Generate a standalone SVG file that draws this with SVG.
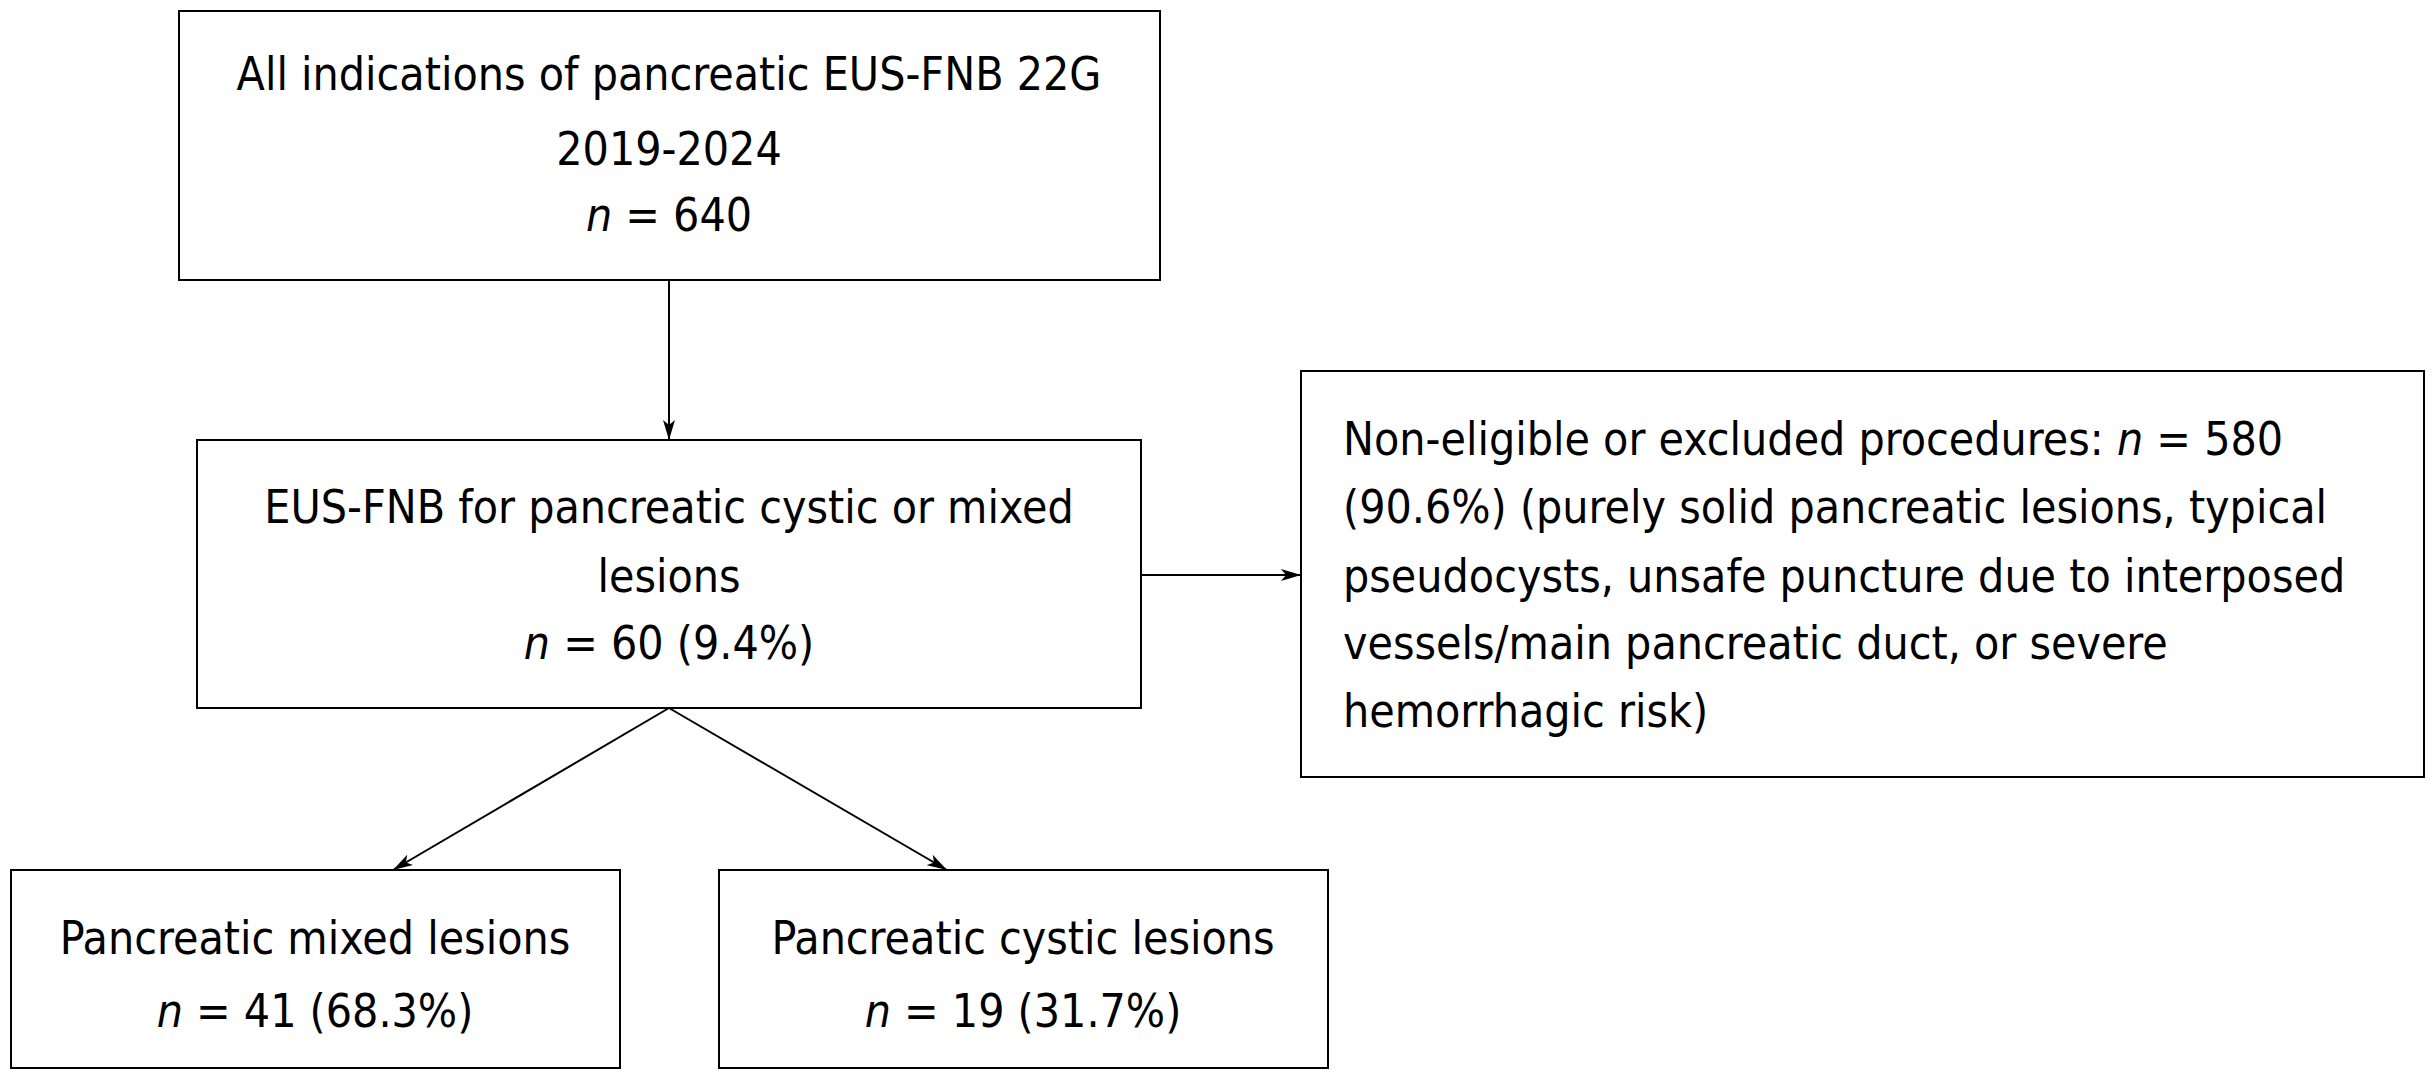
<svg xmlns="http://www.w3.org/2000/svg" width="2435" height="1081" viewBox="0 0 2435 1081">
<defs>
<style>
rect{fill:#fff;stroke:#000;stroke-width:2}
text{font-family:"DejaVu Sans Condensed","DejaVu Sans",sans-serif;font-size:46px;fill:#000}
.c{text-anchor:middle}
.l{stroke:#000;stroke-width:2;fill:none}
</style>
<marker id="a" viewBox="0 0 20 12" refX="20" refY="6" markerWidth="20" markerHeight="12" markerUnits="userSpaceOnUse" orient="auto"><path d="M0,0 L20,6 L0,12 L5,6 Z" fill="#000"/></marker>
</defs>
<rect width="2435" height="1081" style="stroke:none"/>
<g id="n1"><rect x="179" y="11" width="981" height="269"/>
<text class="c" x="669" y="90">All indications of pancreatic EUS-FNB 22G</text>
<text class="c" x="669" y="165">2019-2024</text>
<text class="c" x="669" y="231"><tspan font-style="italic">n</tspan> = 640</text></g>
<g id="n2"><rect x="197" y="440" width="944" height="268"/>
<text class="c" x="669" y="523">EUS-FNB for pancreatic cystic or mixed</text>
<text class="c" x="669" y="592">lesions</text>
<text class="c" x="669" y="659"><tspan font-style="italic">n</tspan> = 60 (9.4%)</text></g>
<g id="n3"><rect x="1301" y="371" width="1123" height="406"/>
<text x="1343" y="455">Non-eligible or excluded procedures: <tspan font-style="italic">n</tspan> = 580</text>
<text x="1343" y="523">(90.6%) (purely solid pancreatic lesions, typical</text>
<text x="1343" y="592">pseudocysts, unsafe puncture due to interposed</text>
<text x="1343" y="659">vessels/main pancreatic duct, or severe</text>
<text x="1343" y="727">hemorrhagic risk)</text></g>
<g id="n4"><rect x="11" y="870" width="609" height="198"/>
<text class="c" x="315" y="954">Pancreatic mixed lesions</text>
<text class="c" x="315" y="1027"><tspan font-style="italic">n</tspan> = 41 (68.3%)</text></g>
<g id="n5"><rect x="719" y="870" width="609" height="198"/>
<text class="c" x="1023" y="954">Pancreatic cystic lesions</text>
<text class="c" x="1023" y="1027"><tspan font-style="italic">n</tspan> = 19 (31.7%)</text></g>
<g id="connectors">
<path class="l" d="M669,280 V440" marker-end="url(#a)"/>
<path class="l" d="M1141,575 H1301" marker-end="url(#a)"/>
<path class="l" d="M669,708 L393,870" marker-end="url(#a)"/>
<path class="l" d="M669,708 L947,870" marker-end="url(#a)"/>
</g>
</svg>
